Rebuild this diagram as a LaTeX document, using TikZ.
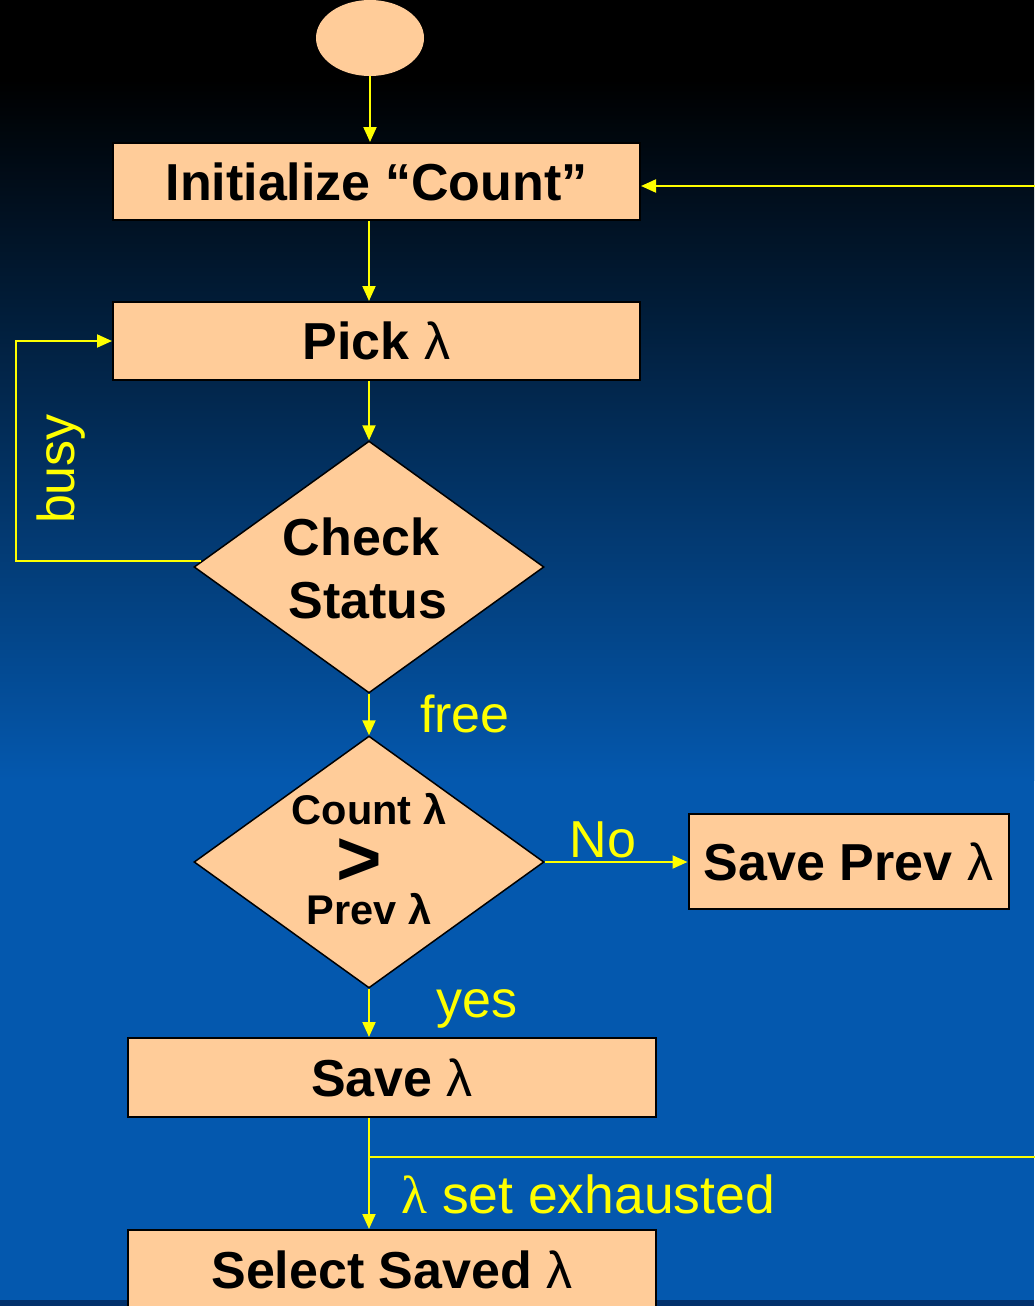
\documentclass[tikz,border=0pt]{standalone}
\usepackage{fontspec}
\setmainfont{Liberation Sans}
\newfontfamily\serlam{Liberation Serif}
\usetikzlibrary{arrows.meta,shapes.geometric,calc}
\definecolor{peach}{HTML}{FFCC99}
\definecolor{bgblue}{HTML}{0458AE}
\definecolor{bgdark}{HTML}{02316C}
\definecolor{yel}{HTML}{FFFF00}
\newcommand\bxfont{\fontsize{52}{62}\selectfont\bfseries}
\newcommand\smfont{\fontsize{41.5}{48}\selectfont\bfseries}
\newcommand\lbfont{\fontsize{52}{62}\selectfont}
\newcommand\lam{{\mdseries λ}}
\begin{document}
\begin{tikzpicture}[x=1pt,y=-1pt,
  box/.style={rectangle, draw=black, line width=2pt, fill=peach, inner sep=0pt, font=\bxfont},
  dia/.style={diamond, draw=black, line width=1.5pt, fill=peach, minimum width=350pt, minimum height=252pt, inner sep=0pt},
  txt/.style={inner sep=0pt, font=\bxfont},
  stxt/.style={inner sep=0pt, font=\smfont},
  lab/.style={inner sep=0pt, text=yel, font=\lbfont},
  con/.style={draw=yel, line width=2pt, line join=miter},
  arr/.style={con, -{Triangle[length=15pt,width=13pt]}}]
\useasboundingbox (0,0) rectangle (1034,1306);
% background
\fill[black] (0,0) rectangle (1034,80.5);
\shade[top color=black, bottom color=bgblue] (0,80) rectangle (1034,780.5);
\fill[bgblue] (0,780) rectangle (1034,1300);
\fill[bgdark] (0,1300) rectangle (1034,1306);
% nodes
\node[ellipse, fill=peach, minimum width=108pt, minimum height=76pt, inner sep=0pt] (start) at (370,38) {};
\node[box, minimum width=527pt, minimum height=77pt] (init) at (376.5,181.5) {Initialize “Count”};
\node[box, minimum width=527pt, minimum height=78pt] (pick) at (376.5,341) {Pick \lam};
\node[dia] (chk) at (369,567) {};
\node[txt, anchor=base] (chkA) at (361,555) {Check};
\node[txt, anchor=base] (chkB) at (368,618) {Status};
\node[dia] (cmp) at (369,862) {};
\node[stxt, anchor=base] (cmpA) at (369,824) {Count λ};
\node[inner sep=0pt, font=\fontsize{78}{80}\selectfont\bfseries, text height=0.58em, text depth=0pt, anchor=base] (cmpB) at (359,885) {>};
\node[stxt, anchor=base] (cmpC) at (369,924) {Prev λ};
\node[box, minimum width=320pt, minimum height=95pt] (prev) at (848.5,861.5) {Save Prev \lam};
\node[box, minimum width=528pt, minimum height=79pt] (save) at (392,1077.5) {Save \lam};
\node[box, minimum width=528pt, minimum height=80pt] (sel) at (392,1270) {Select Saved \lam};
% helper coordinates
\coordinate (ax) at (369,0);
\coordinate (bx) at (16,0);
\coordinate (rx) at (1050,0);
\coordinate (br) at (369,1157);
\coordinate (initin) at ($(init.east)+(0,4.5)$);
% connectors
\draw[arr] (start.south) -- (start.south |- init.north);
\draw[arr] (init.south -| ax) -- (pick.north -| ax);
\draw[arr] (pick.south -| ax) -- (chk.north);
\draw[arr] (chk.178) -- (chk.178 -| bx) -- (bx |- pick.west) -- (pick.west);
\draw[arr] (chk.south) -- (cmp.north);
\draw[arr] (cmp.east) -- (prev.west |- cmp.east);
\draw[arr] (cmp.south) -- (save.north -| ax);
\draw[arr] (save.south -| ax) -- (sel.north -| ax);
\draw[arr] (br) -- (br -| rx) -- (rx |- initin) -- (initin);
% labels
\node[lab, rotate=90] (busyL) at (61,469) {busy};
\node[lab, anchor=base] (freeL) at (465,732) {free};
\node[lab, anchor=base] (noL) at (603,857) {No};
\node[lab, anchor=base] (yesL) at (477,1017) {yes};
\node[lab, anchor=base west, font=\fontsize{53.5}{62}\selectfont] (exL) at (401,1213) {{\serlam λ} set exhausted};
\end{tikzpicture}
\end{document}
